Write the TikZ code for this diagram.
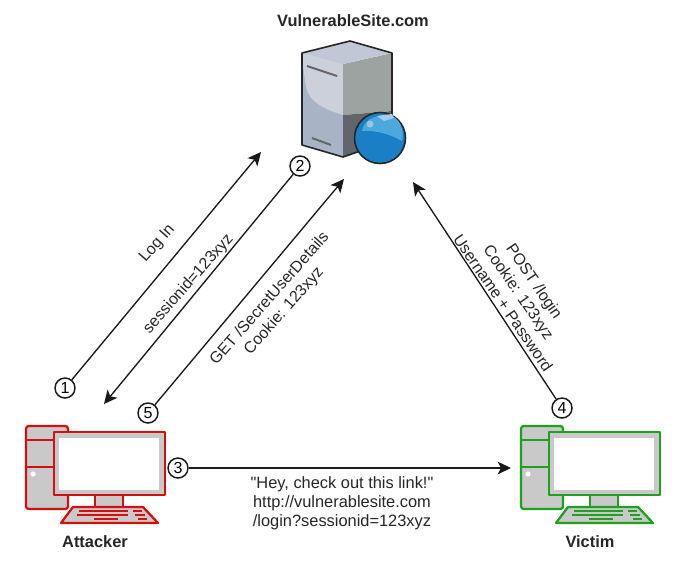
\documentclass[tikz,border=0pt]{standalone}
\usepackage{fontspec}
\setmainfont{Liberation Sans}[Ligatures=TeXOff]
\usetikzlibrary{arrows.meta}
\definecolor{attackred}{HTML}{D40F0F}
\definecolor{victimgreen}{HTML}{1FA01F}
\definecolor{pcgray}{HTML}{C9C9C9}
\definecolor{ballblue}{HTML}{1B7FC6}
\definecolor{ballshine}{HTML}{4BA9DE}
\definecolor{srvleft}{HTML}{A9B3C6}
\definecolor{srvlight}{HTML}{CBD0DB}
\definecolor{srvtop}{HTML}{C2C7D6}
\definecolor{srvright}{HTML}{9DA3A1}
\definecolor{srvdark}{HTML}{62666C}
\tikzset{
    step-mark/.style = {draw=black!90, fill=white, circle, line width=1.1pt, minimum size=15pt, inner sep=0pt, font=\fontsize{12}{12}\selectfont},
    msg-line/.style = {draw=black!90, line width=1pt, -{Stealth[length=10pt,width=9.5pt,inset=2.5pt]}},
    msg-text/.style = {align=center, text=black!85, font=\fontsize{12.3}{14.3}\selectfont},
    slant-text/.style = {msg-text, font=\fontsize{12}{14.3}\selectfont},
    host-name/.style = {text=black!85, font=\fontsize{12.3}{14}\selectfont\bfseries},
}
% computer, drawn with its own origin shifted by #1
\newcommand{\drawpc}[2]{
\begin{scope}[shift={(#1,0)}, draw=#2, line width=1.7pt, line join=round]
    \draw[fill=pcgray, rounded corners=2pt] (26,426) rectangle (68,509);
    \draw (26,440) -- (54,440);
    \draw (26,467) -- (54,467);
    \fill[white] (33,474) circle (2.6);
    \draw[fill=pcgray] (95,495) rectangle (123,507);
    \draw[fill=pcgray] (61,523) -- (73,507) -- (143,507) -- (158,523) -- cycle;
    \draw[fill=pcgray] (54,432) rectangle (165,495);
    \fill[white] (58.5,437.5) rectangle (159,490);
    \draw[line width=1.2pt] (79,511) -- (128,511) (133,511) -- (142,511);
    \draw[line width=1.2pt] (77,515) -- (128,515) (135,515) -- (145,515);
    \draw[line width=1.2pt] (94,519) -- (118,519) (138,519) -- (147,519);
\end{scope}
}
\begin{document}
\begin{tikzpicture}[x=0.75pt, y=-0.75pt]
\useasboundingbox (0,0) rectangle (686,576);

% server
\fill[srvleft] (302,53) -- (343,64) -- (343,157) -- (302,145) -- cycle;
\fill[srvlight] (302,53) -- (343,64) -- (343,115) .. controls (320,108) and (306,100) .. (305,80) -- (302,60) -- cycle;
\fill[srvright] (343,64) -- (392,53) -- (392,111) -- (343,115) -- cycle;
\fill[srvdark] (343,115) -- (392,111) -- (392,140) -- (343,157) -- cycle;
\fill[srvtop] (302,53) -- (350,41) -- (392,53) -- (343,64) -- cycle;
\draw[black!85, line width=1.2pt, line join=round] (302,53) -- (350,41) -- (392,53) -- (392,140) -- (343,157) -- (302,145) -- cycle;
\draw[black!60, line width=1.5pt] (307,66) -- (337,76);
\draw[black!60, line width=1.5pt] (312,138) -- (331,145);
\draw[black!85, fill=ballblue, line width=1.2pt] (380,138) circle (25.5);
\fill[ballshine] (362,131) .. controls (364,118) and (380,113) .. (392,116) .. controls (402,120) and (404,134) .. (402,141) .. controls (390,134) and (375,130) .. (362,131) -- cycle;
\fill[ballblue!45!white] (370,124) circle (3.5);
\fill[ballblue!40!white] (377,116) -- (392,114) -- (394,118) -- (384,121) -- cycle;

% computers
\drawpc{0}{attackred}
\drawpc{495}{victimgreen}

% names
\node[host-name] (site) at (353,21) {VulnerableSite.com};
\node[host-name] (attacker) at (95,542) {Attacker};
\node[host-name] (victim) at (590,542) {Victim};

% numbered marks
\node[step-mark] (one) at (65,388) {1};
\node[step-mark] (two) at (300,166) {2};
\node[step-mark] (three) at (178,468) {3};
\node[step-mark] (four) at (562,408) {4};
\node[step-mark] (five) at (148,413) {5};

% free arrow ends
\coordinate (login-end) at (261,152);
\coordinate (reply-end) at (104,404);
\coordinate (link-end) at (511,468);
\coordinate (post-end) at (413,182);
\coordinate (get-end) at (344,179);

\draw[msg-line] (one) -- (login-end);
\draw[msg-line] (two) -- (reply-end);
\draw[msg-line] (three) -- (link-end);
\draw[msg-line] (four) -- (post-end);
\draw[msg-line] (five) -- (get-end);

% labels on the arrows
\node[slant-text, rotate=48.5] (login-text) at (157.5,243.5) {Log In};
\node[slant-text, rotate=48.5] (reply-text) at (188.5,284) {sessionid=123xyz};
\node[slant-text, rotate=48.5] (get-text) at (277,305) {GET /SecretUserDetails\\Cookie: 123xyz};
\node[slant-text, rotate=-55.5] (post-text) at (519,292) {POST /login\\Cookie: 123xyz\\Username + Password};
\node[msg-text] (link-text) at (342,503) {"Hey, check out this link!"\\http://vulnerablesite.com\\/login?sessionid=123xyz};
\end{tikzpicture}
\end{document}
